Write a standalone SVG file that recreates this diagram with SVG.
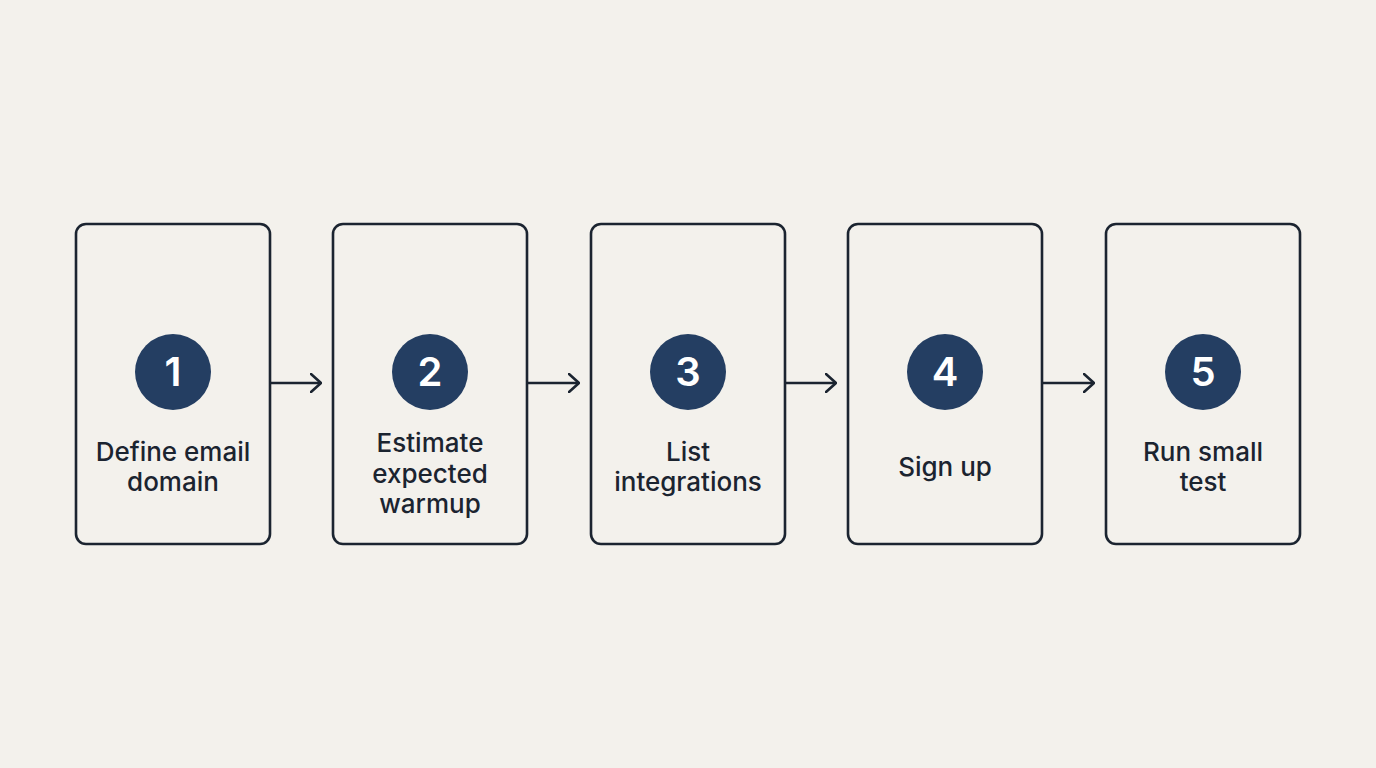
<svg xmlns="http://www.w3.org/2000/svg" width="1376" height="768" viewBox="0 0 1376 768">
<style>
.box{fill:#f3f1ec;stroke:#1b2430;stroke-width:2.6}
.num{fill:#243e62}
.nt{font-family:Inter,"Noto Sans",sans-serif;font-size:40px;font-weight:600;fill:#ffffff;text-anchor:middle}
.lb{font-family:Inter,"Noto Sans",sans-serif;font-size:26px;font-weight:500;fill:#1b2430;text-anchor:middle}
.con{stroke:#1b2430;stroke-width:2.6;fill:none}
</style>
<defs>
<marker id="ah" viewBox="0 0 12 20" refX="11" refY="10" markerWidth="12" markerHeight="20" markerUnits="userSpaceOnUse" orient="auto">
<path d="M1,1 L11,10 L1,19" fill="none" stroke="#1b2430" stroke-width="2.6" stroke-linecap="round" stroke-linejoin="round"/>
</marker>
</defs>
<rect width="1376" height="768" fill="#f3f1ec"/>
<g id="connectors">
<line class="con" x1="270" y1="383" x2="321" y2="383" marker-end="url(#ah)"/>
<line class="con" x1="527" y1="383" x2="579" y2="383" marker-end="url(#ah)"/>
<line class="con" x1="785" y1="383" x2="836" y2="383" marker-end="url(#ah)"/>
<line class="con" x1="1042" y1="383" x2="1094" y2="383" marker-end="url(#ah)"/>
</g>
<g id="step1">
<rect class="box" x="76" y="224" width="194" height="320" rx="10"/>
<circle class="num" cx="173" cy="372" r="38"/>
<text class="nt" x="173" y="386">1</text>
<text class="lb" x="173" y="461">Define email</text>
<text class="lb" x="173" y="491">domain</text>
</g>
<g id="step2">
<rect class="box" x="333" y="224" width="194" height="320" rx="10"/>
<circle class="num" cx="430" cy="372" r="38"/>
<text class="nt" x="430" y="386">2</text>
<text class="lb" x="430" y="452">Estimate</text>
<text class="lb" x="430" y="483">expected</text>
<text class="lb" x="430" y="513">warmup</text>
</g>
<g id="step3">
<rect class="box" x="591" y="224" width="194" height="320" rx="10"/>
<circle class="num" cx="688" cy="372" r="38"/>
<text class="nt" x="688" y="386">3</text>
<text class="lb" x="688" y="461">List</text>
<text class="lb" x="688" y="491">integrations</text>
</g>
<g id="step4">
<rect class="box" x="848" y="224" width="194" height="320" rx="10"/>
<circle class="num" cx="945" cy="372" r="38"/>
<text class="nt" x="945" y="386">4</text>
<text class="lb" x="945" y="476">Sign up</text>
</g>
<g id="step5">
<rect class="box" x="1106" y="224" width="194" height="320" rx="10"/>
<circle class="num" cx="1203" cy="372" r="38"/>
<text class="nt" x="1203" y="386">5</text>
<text class="lb" x="1203" y="461">Run small</text>
<text class="lb" x="1203" y="491">test</text>
</g>
</svg>
